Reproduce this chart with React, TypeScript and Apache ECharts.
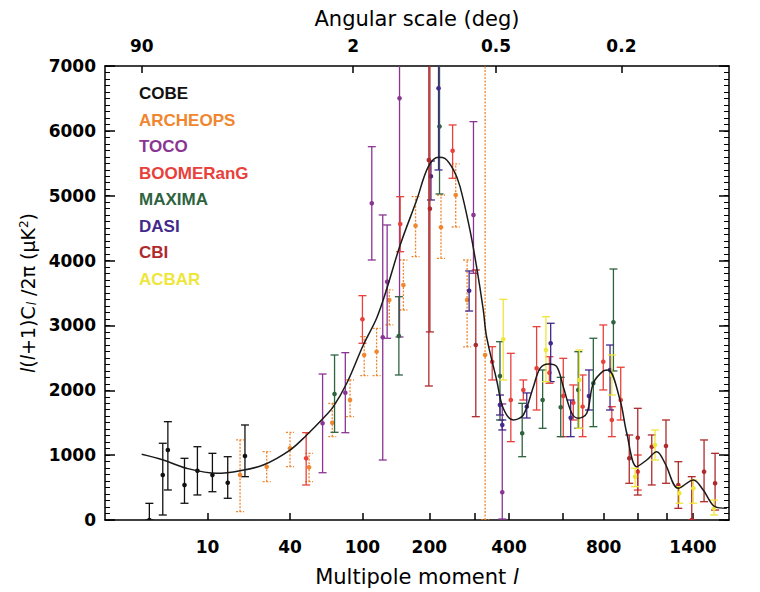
import React, { useEffect, useRef } from 'react';
import * as echarts from 'echarts';

// ---------- data (multipole l, value, lower, upper) in µK² ----------
const experiments = ['COBE', 'ARCHEOPS', 'TOCO', 'BOOMERanG', 'MAXIMA', 'DASI', 'CBI', 'ACBAR'];
const expColors = ['#111111', '#F0862E', '#8A3593', '#E8403A', '#2E6340', '#43298A', '#AE2A2C', '#EFE63C'];

const cobe = [
  [2.5, 0, 0, 257], [3.6, 694, 77, 1183], [4.1, 1079, 463, 1516], [6.1, 540, 258, 951],
  [8.1, 760, 386, 1130], [11, 694, 436, 1028], [14.7, 575, 335, 976], [19.9, 987, 668, 1465],
];
const archeops = [
  [18.3, 694, 128, 1234], [28.3, 822, 591, 1053], [40, 1106, 822, 1352], [52, 812, 591, 1028],
  [70, 1500, 1284, 1799], [86.7, 1850, 1593, 2159], [102, 2544, 2225, 2826], [117, 2596, 2225, 2956],
  [134, 3392, 3007, 3547], [155, 3624, 3238, 4009], [175, 4538, 4060, 4985], [223, 4513, 4035, 5011],
  [255, 5011, 4518, 5490], [282, 3392, 2668, 4009], [329, 2544, 0, 7600],
];
const toco = [
  [62, 1491, 729, 2251], [82, 1963, 1346, 2580], [111, 4883, 4009, 5756], [125, 2817, 925, 4703],
  [131, 3675, 2802, 4549], [149, 6502, 2822, 7600], [298, 4703, 3804, 6142], [379, 427, 15, 1789],
];
const boomerang = [
  [50, 951, 540, 1347], [100, 3095, 2725, 3459], [150, 4564, 4137, 4985], [248, 5694, 5269, 6091],
  [349, 2441, 2159, 2672], [406, 1850, 1208, 2570], [448, 2005, 1850, 2159], [496, 2339, 1696, 2981],
  [546, 2271, 2108, 2518], [604, 1912, 1285, 2493], [649, 1809, 1542, 2082], [693, 1748, 1285, 2236],
  [798, 2441, 2005, 3007], [845, 1542, 1285, 1747], [896, 1850, 1542, 2355], [1000, 745, 462, 1002],
];
const maxima = [
  [72, 1943, 1352, 2544], [148, 2837, 2236, 3443], [220, 6068, 5027, 7600], [372, 2220, 1542, 2749],
  [444, 1337, 976, 1799], [519, 1850, 1414, 2313], [593, 1738, 1285, 2200], [672, 2005, 1414, 2595],
  [746, 2108, 1439, 2802], [854, 3048, 2298, 3870],
];
const dasi = [
  [203, 5300, 4934, 5535], [218, 6657, 5397, 7600], [287, 3536, 3222, 3840], [372, 1773, 1619, 1927],
  [379, 1465, 1388, 1542], [460, 1748, 1573, 1959], [551, 2725, 2133, 3033], [637, 1578, 1285, 1850],
  [724, 1912, 1696, 2313], [835, 2313, 1696, 2698],
];
const cbi = [
  [199, 5551, 2066, 7600], [201, 4800, 2900, 7600], [304, 2699, 1593, 3855], [947, 951, 566, 1311],
  [1000, 1269, 385, 1722], [1092, 1130, 540, 1311], [1192, 1141, 566, 1542], [1284, 540, 180, 899],
  [1390, 0, 0, 668], [1493, 745, 282, 1234], [1590, 566, 154, 1028],
];
const acbar = [
  [382, 2786, 2159, 3403], [532, 2621, 2133, 3135], [677, 2159, 1414, 2621], [845, 2236, 1927, 2544],
  [983, 668, 514, 797], [1114, 1157, 925, 1388], [1292, 412, 258, 514], [1403, 489, 258, 617],
  [1580, 180, 77, 308],
];
const expData = [cobe, archeops, toco, boomerang, maxima, dasi, cbi, acbar];

const theoryL = [2, 3.65, 6.4, 12, 18.3, 26.8, 40, 50.4, 62.5, 70.9, 83.4, 101, 117, 130, 150, 177, 198, 218,
  231, 250, 265, 289, 306, 324, 333, 362, 382, 414, 448, 484, 509, 542, 576, 604, 642, 672, 713, 746, 799, 825,
  892, 932, 993, 1058, 1126, 1185, 1284, 1403, 1486, 1589, 1698];
const theoryV = [1013, 925, 797, 720, 760, 848, 1079, 1311, 1568, 1747, 2108, 2699, 3110, 3547, 4240, 4934, 5448,
  5593, 5577, 5397, 5140, 4472, 3906, 3238, 2826, 2159, 1722, 1542, 1619, 2055, 2339, 2406, 2364, 2055, 1645,
  1568, 1645, 2108, 2298, 2313, 1850, 1337, 822, 925, 1053, 874, 489, 617, 463, 205, 180];

const bottomTicks = [10, 40, 100, 200, 300, 400, 600, 800, 1000, 1200, 1400];
const bottomLabels = [10, 40, 100, 200, 400, 800, 1400];
const topAngles = [90, 2, 0.5, 0.2];

// ---------- axis transform ----------
const u = (l: number) => Math.pow(l, 0.25);
const U_MIN = 0.861;
const U_MAX = 6.439;

const nearest = (list: number[], map: (v: number) => number, val: number) => {
  let best = list[0];
  let d = Infinity;
  for (const x of list) {
    const dd = Math.abs(map(x) - val);
    if (dd < d) { d = dd; best = x; }
  }
  return best;
};

const labelFont = { color: '#000', fontFamily: 'DejaVu Sans', fontWeight: 'bold' as const, fontSize: 17 };
const frame = { color: '#000', width: 1.5 };

function minorAxis(position: 'left' | 'right') {
  return {
    type: 'value',
    position,
    min: 0,
    max: 7000,
    interval: 100,
    axisLine: { show: false },
    axisTick: { show: true, inside: true, length: 5, lineStyle: { color: '#000', width: 1 } },
    axisLabel: { show: false },
    splitLine: { show: false },
  };
}

function buildOption() {
  const errSeries = experiments.map((name, i) => {
    const color = expColors[i];
    const dashed = name === 'ARCHEOPS';
    return {
      name,
      type: 'custom',
      clip: true,
      xAxisIndex: 0,
      yAxisIndex: 0,
      encode: { x: 0, y: [1, 2, 3] },
      data: expData[i].map((d) => [u(d[0]), d[1], d[2], d[3]]),
      renderItem: (_p: any, api: any) => {
        const x = api.value(0);
        const p = api.coord([x, api.value(1)]);
        const lo = api.coord([x, api.value(2)]);
        const hi = api.coord([x, api.value(3)]);
        const cap = 4;
        const style = { stroke: color, lineWidth: 1.3, lineDash: dashed ? [2, 1.5] : null, fill: null };
        return {
          type: 'group',
          children: [
            { type: 'line', shape: { x1: p[0], y1: lo[1], x2: p[0], y2: hi[1] }, style },
            { type: 'line', shape: { x1: p[0] - cap, y1: lo[1], x2: p[0] + cap, y2: lo[1] }, style },
            { type: 'line', shape: { x1: p[0] - cap, y1: hi[1], x2: p[0] + cap, y2: hi[1] }, style },
            { type: 'circle', shape: { cx: p[0], cy: p[1], r: 2.3 }, style: { fill: color } },
          ],
        };
      },
    };
  });

  return {
    animation: false,
    backgroundColor: '#fff',
    grid: { left: 105, right: 31, top: 66, bottom: 72 },
    legend: {
      orient: 'vertical',
      left: 129,
      top: 80,
      itemWidth: 0,
      itemHeight: 0,
      itemGap: 9.5,
      icon: 'rect',
      selectedMode: false,
      textStyle: { fontFamily: 'Liberation Sans', fontWeight: 'bold', fontSize: 17 },
      data: experiments.map((n, i) => ({ name: n, textStyle: { color: expColors[i] } })),
    },
    xAxis: [
      {
        type: 'value',
        position: 'bottom',
        min: U_MIN,
        max: U_MAX,
        axisLine: { show: true, onZero: false, lineStyle: frame },
        axisTick: { show: true, inside: true, length: 7, customValues: bottomTicks.map(u), lineStyle: frame },
        axisLabel: {
          ...labelFont,
          margin: 18,
          customValues: bottomLabels.map(u),
          formatter: (v: number) => String(nearest(bottomLabels, u, v)),
        },
        splitLine: { show: false },
        name: 'Multipole moment {it|l}',
        nameLocation: 'middle',
        nameGap: 46,
        nameTextStyle: {
          color: '#000', fontFamily: 'DejaVu Sans', fontSize: 21,
          rich: { it: { fontFamily: 'DejaVu Sans', fontStyle: 'italic', fontSize: 21, color: '#000' } },
        },
      },
      {
        type: 'value',
        position: 'top',
        min: U_MIN,
        max: U_MAX,
        axisLine: { show: true, onZero: false, lineStyle: frame },
        axisTick: { show: true, inside: true, length: 7, customValues: topAngles.map((a) => u(180 / a)), lineStyle: frame },
        axisLabel: {
          ...labelFont,
          margin: 12,
          customValues: topAngles.map((a) => u(180 / a)),
          formatter: (v: number) => String(nearest(topAngles, (a) => u(180 / a), v)),
        },
        splitLine: { show: false },
        name: 'Angular scale (deg)',
        nameLocation: 'middle',
        nameGap: 37,
        nameTextStyle: { color: '#000', fontFamily: 'DejaVu Sans', fontSize: 21 },
      },
    ],
    yAxis: [
      {
        type: 'value',
        position: 'left',
        min: 0,
        max: 7000,
        interval: 1000,
        axisLine: { show: true, onZero: false, lineStyle: frame },
        axisTick: { show: true, inside: true, length: 10, lineStyle: frame },
        axisLabel: { ...labelFont, margin: 9, formatter: (v: number) => String(v) },
        splitLine: { show: false },
        name: '{it|l}({it|l}+1)C{sub|l} /2π (μK{sup|2})',
        nameLocation: 'middle',
        nameGap: 66,
        nameTextStyle: {
          color: '#000', fontFamily: 'DejaVu Sans', fontSize: 19,
          rich: {
            it: { fontFamily: 'DejaVu Sans', fontStyle: 'italic', fontSize: 19, color: '#000' },
            sub: { fontFamily: 'DejaVu Sans', fontStyle: 'italic', fontSize: 12, color: '#000', padding: [8, 0, 0, 1] },
            sup: { fontFamily: 'DejaVu Sans', fontSize: 12, color: '#000', padding: [0, 0, 8, 0] },
          },
        },
      },
      {
        type: 'value',
        position: 'right',
        min: 0,
        max: 7000,
        interval: 1000,
        axisLine: { show: true, onZero: false, lineStyle: frame },
        axisTick: { show: true, inside: true, length: 10, lineStyle: frame },
        axisLabel: { show: false },
        splitLine: { show: false },
      },
      minorAxis('left'),
      minorAxis('right'),
    ],
    series: [
      ...errSeries,
      {
        name: 'theory',
        type: 'line',
        xAxisIndex: 0,
        yAxisIndex: 0,
        smooth: 0.35,
        showSymbol: false,
        symbol: 'none',
        clip: true,
        lineStyle: { color: '#1a1a1a', width: 1.5 },
        data: theoryL.map((l, i) => [u(l), theoryV[i]]),
        z: 3,
      },
    ],
  };
}

export default function App() {
  const ref = useRef<HTMLDivElement>(null);
  useEffect(() => {
    document.body.style.margin = '0';
    const chart = echarts.init(ref.current!, null, { renderer: 'svg' });
    chart.setOption(buildOption() as any);
    return () => chart.dispose();
  }, []);
  return <div ref={ref} style={{ width: 760, height: 592, background: '#fff' }} />;
}
